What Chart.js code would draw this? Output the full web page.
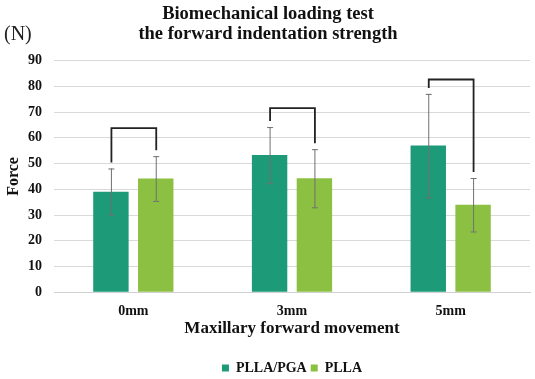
<!DOCTYPE html>
<html>
<head>
<meta charset="utf-8">
<script src="https://cdn.jsdelivr.net/npm/chart.js@4"></script>
<style>
  html, body { margin: 0; padding: 0; background: #fff; }
  #wrap { width: 535px; height: 379px; }
</style>
</head>
<body>
<div id="wrap"><canvas id="forceChart"></canvas></div>
<script>
// Chart values
const categories = ['0mm', '3mm', '5mm'];
const pgaValues = [39.1, 53.3, 57.0];
const pllaValues = [44.2, 44.3, 34.0];
const pgaErrors = [9.0, 10.9, 20.1];
const pllaErrors = [8.7, 11.3, 10.4];
const bracketLevels = [63.8, 71.6, 82.7];
const yTicks = [0, 10, 20, 30, 40, 50, 60, 70, 80, 90];

const serif = '"Liberation Serif", "Times New Roman", serif';

// draws error bars, comparison brackets and the "(N)" unit label
const extrasPlugin = {
  id: 'extras',
  afterDatasetsDraw(chart) {
    const ctx = chart.ctx;
    const y = chart.scales.y;
    const metaA = chart.getDatasetMeta(0);
    const metaB = chart.getDatasetMeta(1);

    ctx.save();
    // error bars
    const drawErr = (meta, values, errs) => {
      meta.data.forEach((bar, i) => {
        const top = y.getPixelForValue(values[i] + errs[i]);
        const bot = y.getPixelForValue(values[i] - errs[i]);
        ctx.strokeStyle = '#707070';
        ctx.lineWidth = 1;
        ctx.beginPath();
        ctx.moveTo(bar.x + 0.5, top);
        ctx.lineTo(bar.x + 0.5, bot);
        ctx.moveTo(bar.x - 2.5, top + 0.5);
        ctx.lineTo(bar.x + 3.5, top + 0.5);
        ctx.moveTo(bar.x - 2.5, bot + 0.5);
        ctx.lineTo(bar.x + 3.5, bot + 0.5);
        ctx.stroke();
      });
    };
    drawErr(metaA, pgaValues, pgaErrors);
    drawErr(metaB, pllaValues, pllaErrors);

    // brackets
    ctx.strokeStyle = '#222';
    ctx.lineWidth = 1.8;
    categories.forEach((c, i) => {
      const xa = metaA.data[i].x + 0.5;
      const xb = metaB.data[i].x + 0.5;
      const top = y.getPixelForValue(bracketLevels[i]);
      const endA = y.getPixelForValue(pgaValues[i] + pgaErrors[i]) - 6;
      const endB = y.getPixelForValue(pllaValues[i] + pllaErrors[i]) - 6;
      ctx.beginPath();
      ctx.moveTo(xa, endA);
      ctx.lineTo(xa, top);
      ctx.lineTo(xb, top);
      ctx.lineTo(xb, endB);
      ctx.stroke();
    });

    // unit label
    ctx.fillStyle = '#222';
    ctx.font = '20px ' + serif;
    ctx.textAlign = 'left';
    ctx.textBaseline = 'middle';
    ctx.fillText('(N)', 4, 35);
    ctx.restore();
  }
};

const chartData = {
  labels: categories,
  datasets: [{
    label: 'PLLA/PGA',
    data: pgaValues,
    backgroundColor: '#1d9a77',
    categoryPercentage: 0.565,
    barPercentage: 0.79
  }, {
    label: 'PLLA',
    data: pllaValues,
    backgroundColor: '#8cc043',
    categoryPercentage: 0.565,
    barPercentage: 0.79
  }]
};

new Chart(document.getElementById('forceChart'), {
  type: 'bar',
  data: chartData,
  plugins: [extrasPlugin],
  options: {
    responsive: true,
    maintainAspectRatio: false,
    animation: false,
    layout: { padding: { left: 6, right: 5, top: 4, bottom: -6 } },
    plugins: {
      title: {
        display: true,
        text: ['Biomechanical loading test', 'the forward indentation strength'],
        color: '#111',
        font: { family: serif, size: 18.5, weight: 'bold', lineHeight: 1.1 },
        padding: { top: 0, bottom: 16 }
      },
      legend: {
        position: 'bottom',
        fullSize: false,
        labels: {
          color: '#111',
          font: { family: serif, size: 14, weight: 'bold' },
          boxWidth: 7,
          boxHeight: 7,
          padding: 4
        }
      },
      tooltip: { enabled: false }
    },
    scales: {
      x: {
        grid: { display: false },
        border: { color: '#d0d0d0' },
        ticks: { color: '#111', font: { family: serif, size: 14, weight: 'bold' }, padding: 3 },
        title: {
          display: true,
          text: 'Maxillary forward movement',
          color: '#111',
          font: { family: serif, size: 17, weight: 'bold', lineHeight: 1 },
          padding: { top: -3, bottom: 20 }
        }
      },
      y: {
        min: 0,
        max: 90,
        afterBuildTicks(axis) { axis.ticks = yTicks.map(v => ({ value: v })); },
        grid: { color: '#d9d9d9', drawTicks: false },
        border: { display: false },
        ticks: { color: '#111', font: { family: serif, size: 14, weight: 'bold' }, padding: 12 },
        title: {
          display: true,
          text: 'Force',
          color: '#111',
          font: { family: serif, size: 16, weight: 'bold', lineHeight: 1 },
          padding: { top: 0, bottom: -6 }
        }
      }
    }
  }
});
</script>
</body>
</html>
